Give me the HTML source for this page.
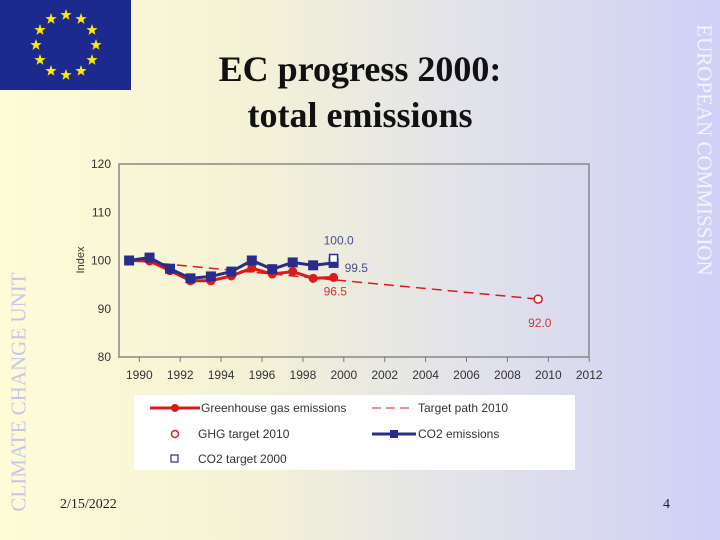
<!DOCTYPE html>
<html><head><meta charset="utf-8"><style>
html,body{margin:0;padding:0}
body{width:720px;height:540px;position:relative;overflow:hidden;background:linear-gradient(90deg,#fefcd6 0%,#f4f2d6 35%,#e2e2ea 65%,#cfd0f6 100%);font-family:"Liberation Sans",sans-serif}
.vt{position:absolute;font-family:"Liberation Serif",serif;font-size:21px;white-space:nowrap}
</style></head><body>
<svg style="position:absolute;left:0;top:0" width="131" height="90" viewBox="0 0 131 90">
<rect width="131" height="90" fill="#1b2a8c"/>
<g id="stars" fill="#ffea00"></g>
</svg>
<div class="vt" style="left:19px;top:392px;transform:translate(-50%,-50%) rotate(-90deg);color:#c6c6e6">CLIMATE CHANGE UNIT</div>
<div class="vt" style="left:704px;top:150px;transform:translate(-50%,-50%) rotate(90deg);color:#f4f4ff">EUROPEAN COMMISSION</div>
<div style="position:absolute;left:160px;width:400px;top:46px;text-align:center;font-family:'Liberation Serif',serif;font-weight:bold;font-size:36px;line-height:46px;color:#111">EC progress 2000:<br>total emissions</div>
<div style="position:absolute;left:60px;top:497px;font-family:'Liberation Serif',serif;font-size:14px;color:#222">2/15/2022</div>
<div style="position:absolute;left:663px;top:497px;font-family:'Liberation Serif',serif;font-size:14px;color:#222">4</div>
<svg id="chart" style="position:absolute;left:0;top:0" width="720" height="540"></svg>
<div style="position:absolute;left:134px;top:395px;width:441px;height:75px;background:#fff;font-size:12px;color:#333">
<svg style="position:absolute;left:0;top:0" width="441" height="75">
<line x1="16" y1="13" x2="66" y2="13" stroke="#d81c1c" stroke-width="3"/><circle cx="41" cy="13" r="4" fill="#d81c1c"/>
<line x1="238" y1="13" x2="280" y2="13" stroke="#d81c1c" stroke-width="1" stroke-dasharray="9,5"/>
<circle cx="41" cy="39" r="3.5" fill="none" stroke="#d81c1c" stroke-width="1.5"/>
<line x1="238" y1="39" x2="282" y2="39" stroke="#2a2c8a" stroke-width="3"/><rect x="256" y="35" width="8" height="8" fill="#2a2c8a"/>
<rect x="37" y="60" width="7" height="7" fill="none" stroke="#2a2c8a" stroke-width="1.2"/>
</svg>
<span style="position:absolute;left:67px;top:6px">Greenhouse gas emissions</span>
<span style="position:absolute;left:284px;top:6px">Target path 2010</span>
<span style="position:absolute;left:64px;top:32px">GHG target 2010</span>
<span style="position:absolute;left:284px;top:32px">CO2 emissions</span>
<span style="position:absolute;left:64px;top:57px">CO2 target 2000</span>
</div>
<script>
const years=[1990,1991,1992,1993,1994,1995,1996,1997,1998,1999,2000];
const ghg=[100,99.9,97.9,95.8,95.8,96.8,98.4,97.2,97.7,96.3,96.5];
const co2=[100,100.6,98.3,96.3,96.7,97.7,100.0,98.2,99.6,99.0,99.5];
const targetPathYears=[1990,2010];
const targetPath=[100,92];
const ghgTarget2010=[2010,92.0];
const co2Target2000=[2000,100.0];
const yTicks=[80,90,100,110,120];
const xTicks=[1990,1992,1994,1996,1998,2000,2002,2004,2006,2008,2010,2012];

const NS="http://www.w3.org/2000/svg";
const svg=document.getElementById('chart');
const L=119,R=589,T=164,B=357;
const yS=v=>B-(v-80)/40*(B-T);
const xTick=y=>139.3+(y-1990)*20.45;
const xS=y=>xTick(y)-10.2;
function el(t,a,p){const e=document.createElementNS(NS,t);for(const k in a)e.setAttribute(k,a[k]);(p||svg).appendChild(e);return e;}
// stars
const sg=document.getElementById('stars');
for(let i=0;i<12;i++){const a=i*Math.PI/6;const cx=66+30*Math.sin(a),cy=45-30*Math.cos(a);let pts=[];for(let k=0;k<10;k++){const r=k%2?2.4:6;const b=k*Math.PI/5;pts.push((cx+r*Math.sin(b)).toFixed(1)+','+(cy-r*Math.cos(b)).toFixed(1));}
const s=el('polygon',{points:pts.join(' ')},sg);

}
// frame
const fr=el('rect',{x:L,y:T,width:R-L,height:B-T,fill:'none',stroke:'#888','stroke-width':1.5});


yTicks.forEach(v=>{const t=el('text',{x:L-8,y:yS(v)+4,'text-anchor':'end','font-size':12,fill:'#333'});t.textContent=v;

});
xTicks.forEach(v=>{const x=xTick(v);el('line',{x1:x,y1:B,x2:x,y2:B+5,stroke:'#777'});const t=el('text',{x:x,y:B+22,'text-anchor':'middle','font-size':12,fill:'#333'});t.textContent=v;

});
const yt=el('text',{x:84,y:260,'text-anchor':'middle','font-size':11,fill:'#333',transform:'rotate(-90 84 260)'});yt.textContent='Index';


// target path
const tp=el('line',{x1:xS(targetPathYears[0]),y1:yS(targetPath[0]),x2:xS(targetPathYears[1]),y2:yS(targetPath[1]),stroke:'#d81c1c','stroke-width':1.5,'stroke-dasharray':'10,6'});


// ghg
const gp=el('polyline',{points:years.map((y,i)=>xS(y)+','+yS(ghg[i])).join(' '),fill:'none',stroke:'#e01818','stroke-width':3});


years.forEach((y,i)=>{const c=el('circle',{cx:xS(y),cy:yS(ghg[i]),r:4.5,fill:'#e01818'});

});
// co2
const cp=el('polyline',{points:years.map((y,i)=>xS(y)+','+yS(co2[i])).join(' '),fill:'none',stroke:'#2a2c8a','stroke-width':3});


years.forEach((y,i)=>{const r=el('rect',{x:xS(y)-5,y:yS(co2[i])-5,width:10,height:10,fill:'#2a2c8a'});

});
// targets
const gt=el('circle',{cx:xS(ghgTarget2010[0]),cy:yS(ghgTarget2010[1]),r:4,fill:'#fff',stroke:'#e01818','stroke-width':1.5});


const ct=el('rect',{x:xS(co2Target2000[0])-4,y:yS(co2Target2000[1])-6,width:8,height:8,fill:'#fff',stroke:'#2a2c8a','stroke-width':1.5});


function lab(x,y,txt,c,n){const t=el('text',{x:x,y:y,'font-size':12,fill:c});t.textContent=txt;

}
lab(xS(2000)-10,yS(co2Target2000[1])-16,co2Target2000[1].toFixed(1),'#4a4c9a','label-co2-target');
lab(xS(2000)+11,yS(co2[10])+9,co2[10].toFixed(1),'#4a4c9a','label-co2-2000');
lab(xS(2000)-10,yS(ghg[10])+18,ghg[10].toFixed(1),'#e03030','label-ghg-2000');
lab(xS(2010)-10,yS(ghgTarget2010[1])+28,ghgTarget2010[1].toFixed(1),'#e03030','label-ghg-target');
</script>
</body></html>
